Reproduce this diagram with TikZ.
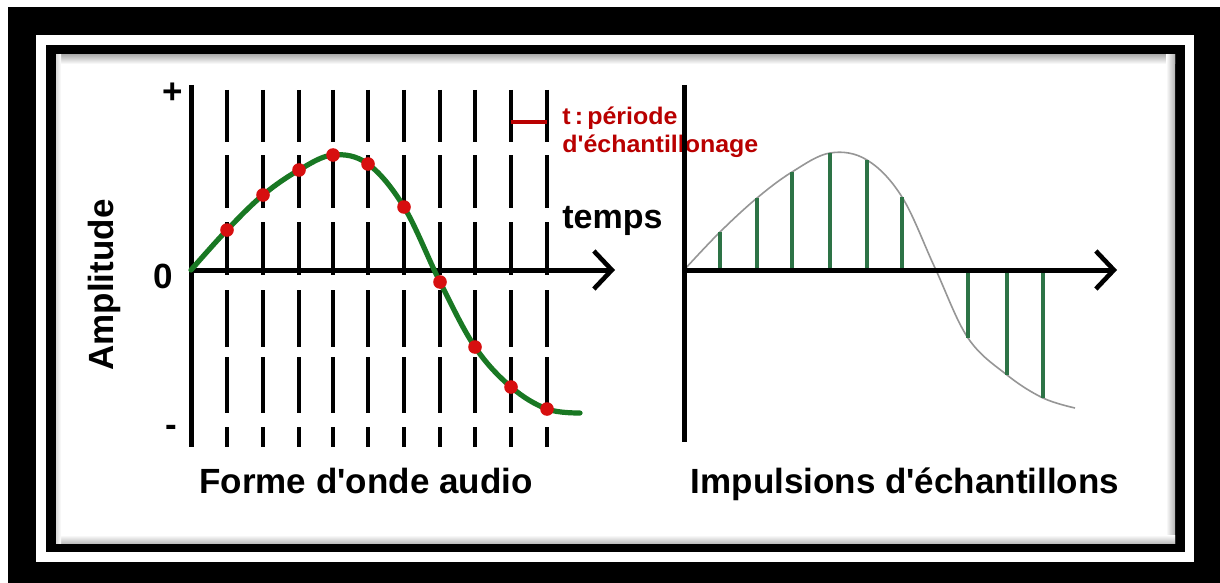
\documentclass[tikz,border=0pt]{standalone}
\usepackage{fontspec}
\setmainfont{Liberation Sans}[Ligatures=TeXOff]
\usepackage{graphicx}
\usetikzlibrary{arrows.meta}
\definecolor{wavegreen}{RGB}{25,120,35}
\definecolor{dotred}{RGB}{215,15,15}
\definecolor{darkred}{RGB}{185,0,0}
\definecolor{stemgreen}{RGB}{45,115,70}
\definecolor{ghost}{RGB}{150,150,150}
\begin{document}
\begin{tikzpicture}[x=0.5pt,y=-0.5pt,
 axis/.style={line width=2.5pt, black},
 xaxis/.style={axis, -{Straight Barb[length=9pt,width=19pt,line width=2.3pt]}},
 dashv/.style={line width=1.7pt, black},
 wave/.style={line width=2.6pt, wavegreen, line cap=round},
 ghostwave/.style={line width=0.8pt, ghost},
 stem/.style={line width=1.6pt, stemgreen},
 dot/.style={circle, fill=dotred, inner sep=0pt, minimum size=6.8pt},
 biglabel/.style={font=\fontsize{17.5}{20}\selectfont\bfseries, inner sep=0pt},
 redlabel/.style={font=\fontsize{12}{14}\selectfont\bfseries, text=darkred, inner sep=0pt, anchor=base west},
]
\useasboundingbox (0,0) rectangle (1220,583);
% frame
\fill[white] (0,0) rectangle (1220,583);
\fill[black] (8,7) rectangle (1220,583);
\fill[white] (36,35) rectangle (1194,562);
\fill[black] (46,45) rectangle (1185,552);
\fill[white] (56,55) rectangle (1175,543);
\shade[top color=black!30, bottom color=white] (56,55) rectangle (1175,64);
\shade[left color=white, right color=black!30] (1166,55) rectangle (1175,543);
\shade[top color=white, bottom color=black!25] (56,535) rectangle (1175,543);
\shade[left color=black!15, right color=white] (56,55) rectangle (61,543);

% left graph: dashed sampling lines
\foreach \x in {227,263,299,333,368,404,440,475,511,547} {
  \foreach \a/\b in {90/142,155/208,222/275,290/347,357/413,427/447}
    \draw[dashv] (\x,\a) -- (\x,\b);
}
\draw[axis] (191,85) -- (191,447);
\draw[xaxis] (191,270) -- (615,270);

% sampling period marker
\coordinate (ta) at (511,122);
\coordinate (tb) at (547,122);
\draw[line width=2.4pt, darkred] (ta) -- (tb);

% waveform
\draw[wave] plot[smooth, tension=0.6] coordinates {(191,270) (227,230) (263,195) (299,170) (333,155) (368,164) (404,207) (440,282) (475,347) (511,387) (547,409) (580,413)};
\node[dot] (p1) at (227,230) {};
\node[dot] (p2) at (263,195) {};
\node[dot] (p3) at (299,170) {};
\node[dot] (p4) at (333,155) {};
\node[dot] (p5) at (368,164) {};
\node[dot] (p6) at (404,207) {};
\node[dot] (p7) at (440,282) {};
\node[dot] (p8) at (475,347) {};
\node[dot] (p9) at (511,387) {};
\node[dot] (p10) at (547,409) {};

% left labels
\node[biglabel, anchor=base] (plus) at (173,104) {+};
\node[biglabel, anchor=base] (zero) at (163,288) {0};
\node[biglabel, anchor=base] (minus) at (171,436) {-};
\node[biglabel, rotate=90] (amp) at (104,285) {Amplitude};
\node[biglabel, font=\fontsize{17}{20}\selectfont\bfseries, anchor=base west] (temps) at (562,228) {temps};
\node[redlabel] (tlab1) at (562,125) {\scalebox{1.04}[1]{t\,:\,période}};
\node[redlabel] (tlab2) at (562,152) {\scalebox{1.04}[1]{d'échantillonage}};
\node[biglabel, anchor=base] (lab1) at (366,493) {Forme d'onde audio};

% right graph
\draw[ghostwave] plot[smooth, tension=0.6] coordinates {(684,270) (720,232) (757,198) (792,172) (830,153) (867,160) (902,197) (935,268) (968,338) (1007,375) (1043,398) (1075,408)};
\foreach \x/\y in {720/232,757/198,792/172,830/153,867/160,902/197,968/338,1007/375,1043/398}
  \draw[stem] (\x,270) -- (\x,\y);
\draw[axis] (684,85) -- (684,442);
\draw[xaxis] (684,270) -- (1117,270);
\node[biglabel, anchor=base] (lab2) at (905,493) {Impulsions d'échantillons};
\end{tikzpicture}
\end{document}
